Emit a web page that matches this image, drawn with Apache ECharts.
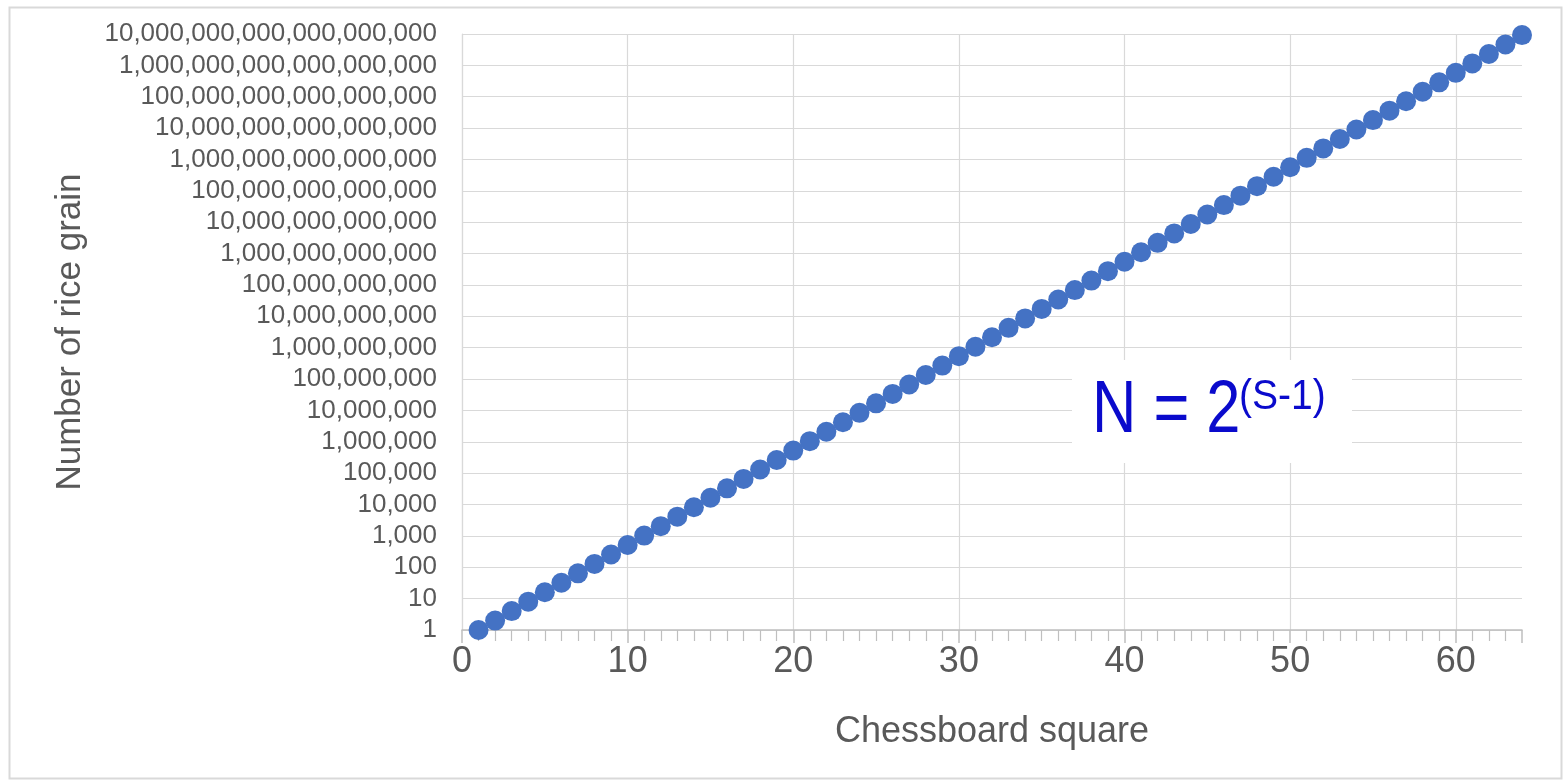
<!DOCTYPE html>
<html>
<head>
<meta charset="utf-8">
<script src="https://cdn.jsdelivr.net/npm/echarts@6/dist/echarts.min.js"></script>
<style>
html,body{margin:0;padding:0;background:#fff;}
#chart{width:1566px;height:780px;}
</style>
</head>
<body>
<div id="chart"></div>
<script>
const squares = [1,2,3,4,5,6,7,8,9,10,11,12,13,14,15,16,17,18,19,20,21,22,23,24,25,26,27,28,29,30,31,32,33,34,35,36,37,38,39,40,41,42,43,44,45,46,47,48,49,50,51,52,53,54,55,56,57,58,59,60,61,62,63,64];
const grains = [1,2,4,8,16,32,64,128,256,512,1024,2048,4096,8192,16384,32768,65536,131072,262144,524288,1048576,2097152,4194304,8388608,16777216,33554432,67108864,134217728,268435456,536870912,1073741824,2147483648,4294967296,8589934592,17179869184,34359738368,68719476736,137438953472,274877906944,549755813888,1099511627776,2199023255552,4398046511104,8796093022208,17592186044416,35184372088832,70368744177664,140737488355328,281474976710656,562949953421312,1125899906842624,2251799813685248,4503599627370496,9007199254740992,18014398509481984,36028797018963968,72057594037927936,144115188075855872,288230376151711744,576460752303423488,1152921504606846976,2305843009213693952,4611686018427387904,9223372036854775808];
const xTitle = 'Chessboard square';
const yTitle = 'Number of rice grain';
const formulaMain = 'N = 2';
const formulaSup = '(S-1)';

const points = squares.map((s, i) => [s, grains[i]]);

function fmtPow10(v) {
  const e = Math.round(Math.log10(v));
  const s = '1' + '0'.repeat(Math.max(0, e));
  return s.replace(/\B(?=(\d{3})+(?!\d))/g, ',');
}

const chart = echarts.init(document.getElementById('chart'));
const font = '"Liberation Sans", Arial, sans-serif';
chart.setOption({
  backgroundColor: '#ffffff',
  animation: false,
  grid: { left: 462, right: 44, top: 34, bottom: 150, containLabel: false },
  xAxis: {
    type: 'value', min: 0, max: 64, interval: 10,
    name: xTitle, nameLocation: 'middle', nameGap: 84,
    nameTextStyle: { fontFamily: font, fontSize: 36, color: '#595959' },
    axisLine: { show: true, lineStyle: { color: '#bfbfbf', width: 1.5 } },
    axisTick: { show: true, length: 13, lineStyle: { color: '#bfbfbf', width: 1.5 } },
    minorTick: { show: true, splitNumber: 10, length: 11, lineStyle: { color: '#bfbfbf', width: 1.2 } },
    axisLabel: { fontFamily: font, fontSize: 36, color: '#595959', margin: 14, showMaxLabel: false },
    splitLine: { show: true, showMaxLine: false, lineStyle: { color: '#d9d9d9', width: 1.2 } },
    minorSplitLine: { show: false }
  },
  yAxis: {
    type: 'log', logBase: 10, min: 1, max: 1e19, interval: 1, splitNumber: 19,
    name: yTitle, nameLocation: 'middle', nameGap: 374, nameRotate: 90,
    nameTextStyle: { fontFamily: font, fontSize: 35, color: '#595959' },
    axisLine: { show: true, lineStyle: { color: '#d9d9d9', width: 1.2 } },
    axisTick: { show: false },
    axisLabel: { fontFamily: font, fontSize: 26, color: '#595959', margin: 25, formatter: fmtPow10 },
    splitLine: { show: true, lineStyle: { color: '#d9d9d9', width: 1.2 } }
  },
  series: [{
    type: 'scatter',
    data: points,
    symbol: 'circle',
    symbolSize: 20,
    itemStyle: { color: '#4472C4', opacity: 1 },
    z: 5
  }],
  graphic: [
    { type: 'rect', left: 7, top: 5, z: 0, silent: true,
      shape: { width: 1552, height: 771 },
      style: { fill: 'none', stroke: '#d9d9d9', lineWidth: 2 } },
    { type: 'rect', left: 1072, top: 360, z: 10,
      shape: { width: 280, height: 103 },
      style: { fill: '#ffffff', stroke: 'none' } },
    { type: 'text', left: 1092, top: 375, z: 11, scaleX: 0.83,
      style: { text: formulaMain, fontFamily: font, fontSize: 74, fill: '#0a0acc' } },
    { type: 'text', left: 1239, top: 376, z: 11, scaleX: 0.93,
      style: { text: formulaSup, fontFamily: font, fontSize: 42, fill: '#0a0acc' } }
  ]
});
</script>
</body>
</html>
